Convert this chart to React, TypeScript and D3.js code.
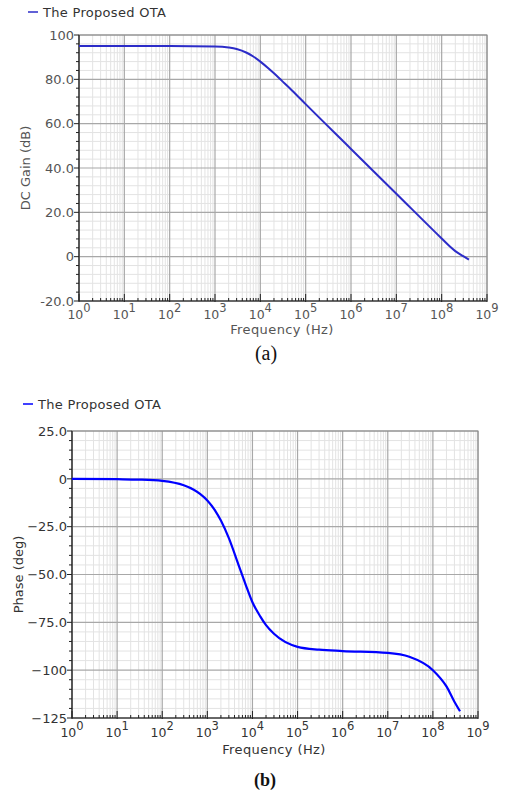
import * as d3 from "d3";

// Gain plot (a)
const gainFreq = [1, 10, 100, 1000, 2000, 3000, 5000, 7000, 1e4, 1.5e4, 2e4, 3e4, 5e4, 1e5, 1e6, 1e7, 1e8, 1.5e8, 2e8, 3e8, 4e8];
const gainDb = [95, 95, 95, 94.8, 94.35, 93.7, 92, 90.3, 88, 85, 82.7, 79.3, 75, 68.8, 48.6, 28.4, 8.2, 4.7, 2.5, 0.2, -1.3];
const gainTicks = [100, 80, 60, 40, 20, 0, -20];
const gainTickLabels = ["100", "80.0", "60.0", "40.0", "20.0", "0", "-20.0"];

// Phase plot (b)
const phaseFreq = [1, 10, 30, 100, 300, 500, 700, 1e3, 1.5e3, 2e3, 3e3, 5e3, 7e3, 1e4, 1.5e4, 2e4, 3e4, 1e5, 3e5, 1e6, 1e7, 3e7, 1e8, 2e8, 3e8, 4e8];
const phaseDeg = [0, -0.2, -0.4, -1.1, -3.4, -5.7, -8, -11.3, -16.7, -21.8, -31, -45.5, -55, -64.5, -72, -76.5, -81, -87.8, -89.3, -90, -91, -93, -100, -108.5, -116.5, -121.5];
const phaseTicks = [25, 0, -25, -50, -75, -100, -125];
const phaseTickLabels = ["25.0", "0", "\u221225.0", "\u221250.0", "\u221275.0", "\u2212100", "\u2212125"];

const decades = d3.range(0, 10);
const seriesName = "The Proposed OTA";
const font = "'DejaVu Sans', Verdana, sans-serif";

type PlotProps = {
  freq: number[];
  vals: number[];
  ticks: number[];
  tickLabels: string[];
  minorStep: number;
  x0: number;
  x1: number;
  y0: number;
  y1: number;
  yLabel: string;
  yLabelX: number;
  legendX: number;
  legendY: number;
  xLabelY: number;
  tickLabelY: number;
  lineColor: string;
  lineWidth: number;
  textColor: string;
};

function Plot(p: PlotProps) {
  const x = d3.scaleLog().domain([1, 1e9]).range([p.x0, p.x1]);
  const yMax = d3.max(p.ticks)!;
  const yMin = d3.min(p.ticks)!;
  const y = d3.scaleLinear().domain([yMin, yMax]).range([p.y1, p.y0]);

  const minorX: number[] = [];
  decades.slice(0, 9).forEach((d) => {
    for (let k = 2; k <= 9; k++) minorX.push(k * Math.pow(10, d));
  });
  const minorY = d3.range(yMin, yMax + 0.001, p.minorStep).filter((v) => !p.ticks.includes(v));

  const line = d3
    .line<number>()
    .x((_, i) => x(p.freq[i]))
    .y((v) => y(v))
    .curve(d3.curveMonotoneX);

  return (
    <g fontFamily={font}>
      {/* legend */}
      <line x1={p.legendX} x2={p.legendX + 10} y1={p.legendY} y2={p.legendY} stroke={p.lineColor} strokeWidth={1.5} />
      <text x={p.legendX + 15} y={p.legendY + 4.5} fontSize={13} fill="#333" letterSpacing={0.3}>
        {seriesName}
      </text>

      <rect x={p.x0} y={p.y0} width={p.x1 - p.x0} height={p.y1 - p.y0} fill="#fff" />

      {/* minor grid */}
      {minorX.map((f) => (
        <line key={"mx" + f} x1={x(f)} x2={x(f)} y1={p.y0} y2={p.y1} stroke="#e3e3e3" strokeWidth={1} />
      ))}
      {minorY.map((v) => (
        <line key={"my" + v} x1={p.x0} x2={p.x1} y1={y(v)} y2={y(v)} stroke="#e3e3e3" strokeWidth={1} />
      ))}
      {/* major grid */}
      {decades.map((d) => (
        <line key={"Mx" + d} x1={x(Math.pow(10, d))} x2={x(Math.pow(10, d))} y1={p.y0} y2={p.y1} stroke="#a8a8a8" strokeWidth={1.2} />
      ))}
      {p.ticks.map((v) => (
        <line key={"My" + v} x1={p.x0} x2={p.x1} y1={y(v)} y2={y(v)} stroke="#a8a8a8" strokeWidth={1.2} />
      ))}

      <rect x={p.x0} y={p.y0} width={p.x1 - p.x0} height={p.y1 - p.y0} fill="none" stroke="#888" strokeWidth={1} />

      {/* axes */}
      <line x1={p.x0} x2={p.x0} y1={p.y0} y2={p.y1} stroke="#222" strokeWidth={1.2} />
      <line x1={p.x0} x2={p.x1} y1={p.y1} y2={p.y1} stroke="#222" strokeWidth={1.2} />
      {minorX.map((f) => (
        <line key={"tx" + f} x1={x(f)} x2={x(f)} y1={p.y1} y2={p.y1 - 3} stroke="#222" strokeWidth={1} />
      ))}
      {decades.map((d) => (
        <line key={"TX" + d} x1={x(Math.pow(10, d))} x2={x(Math.pow(10, d))} y1={p.y1 + 1} y2={p.y1 - 7} stroke="#222" strokeWidth={1} />
      ))}
      {minorY.map((v) => (
        <line key={"ty" + v} x1={p.x0 - 3} x2={p.x0} y1={y(v)} y2={y(v)} stroke="#222" strokeWidth={1} />
      ))}
      {p.ticks.map((v) => (
        <line key={"TY" + v} x1={p.x0 - 5} x2={p.x0} y1={y(v)} y2={y(v)} stroke="#222" strokeWidth={1} />
      ))}

      {/* y tick labels */}
      {p.ticks.map((v, i) => (
        <text key={"ly" + v} x={p.x0 - 5} y={y(v)} dy="0.36em" textAnchor="end" fontSize={13} fill={p.textColor}>
          {p.tickLabels[i]}
        </text>
      ))}
      {/* x tick labels */}
      {decades.map((d) => (
        <text key={"lx" + d} x={x(Math.pow(10, d))} y={p.tickLabelY} textAnchor="middle" fontSize={12.5} fill={p.textColor}>
          10
          <tspan dy={-7} fontSize={11.5}>
            {d}
          </tspan>
        </text>
      ))}

      <text x={(p.x0 + p.x1) / 2 - 1} y={p.xLabelY} textAnchor="middle" fontSize={13} fill={p.textColor} letterSpacing={0.4}>
        Frequency (Hz)
      </text>
      <text
        transform={`translate(${p.yLabelX},${(p.y0 + p.y1) / 2}) rotate(-90)`}
        textAnchor="middle"
        dy="0.36em"
        fontSize={13}
        fill={p.textColor}
      >
        {p.yLabel}
      </text>

      <path d={line(p.vals) ?? ""} fill="none" stroke={p.lineColor} strokeWidth={p.lineWidth} strokeLinejoin="round" />
    </g>
  );
}

export default function App() {
  return (
    <svg width={519} height={794} style={{ position: "absolute", left: 0, top: 0, background: "#fff" }}>
      <rect width={519} height={794} fill="#fff" />
      <Plot
        freq={gainFreq}
        vals={gainDb}
        ticks={gainTicks}
        tickLabels={gainTickLabels}
        minorStep={4}
        x0={79}
        x1={487}
        y0={35}
        y1={301}
        yLabel="DC Gain (dB)"
        yLabelX={25}
        legendX={28}
        legendY={12}
        xLabelY={334}
        tickLabelY={319}
        lineColor="#2c2cc8"
        lineWidth={2}
        textColor="#555"
      />
      <text x={266} y={360} textAnchor="middle" fontFamily="'Liberation Serif', 'Times New Roman', serif" fontSize={20} fill="#111">
        (a)
      </text>
      <Plot
        freq={phaseFreq}
        vals={phaseDeg}
        ticks={phaseTicks}
        tickLabels={phaseTickLabels}
        minorStep={5}
        x0={72}
        x1={478}
        y0={431}
        y1={718}
        yLabel="Phase (deg)"
        yLabelX={18}
        legendX={23}
        legendY={404}
        xLabelY={754}
        tickLabelY={737}
        lineColor="#0000ff"
        lineWidth={2.2}
        textColor="#333"
      />
      <text x={265} y={786} textAnchor="middle" fontFamily="'Liberation Serif', 'Times New Roman', serif" fontSize={18} fontWeight="bold" fill="#111">
        (b)
      </text>
    </svg>
  );
}
